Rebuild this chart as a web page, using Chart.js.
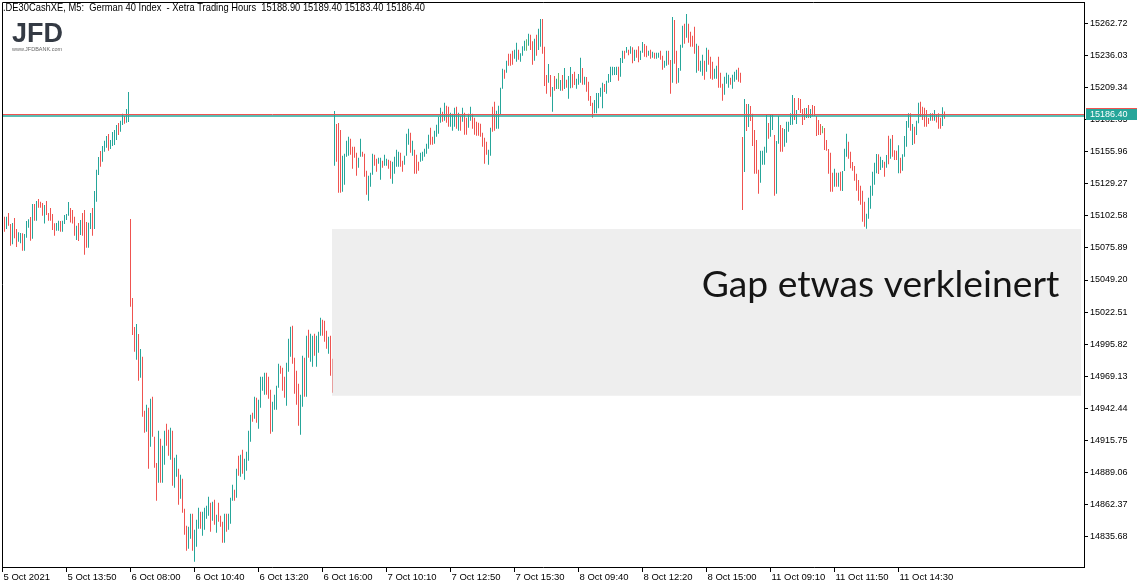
<!DOCTYPE html>
<html>
<head>
<meta charset="utf-8">
<style>
  html, body { margin: 0; padding: 0; background: #fff; }
  #wrap { width: 1142px; height: 588px; position: relative; }
</style>
<script src="https://cdn.jsdelivr.net/npm/chart.js@4.4.1/dist/chart.umd.min.js"></script>
</head>
<body>
<div id="wrap"><canvas id="chart" width="1142" height="588"></canvas></div>
<script>
/* ── Axis labels ── */
const xTickLabels = [
  '5 Oct 2021', '5 Oct 13:50', '6 Oct 08:00', '6 Oct 10:40', '6 Oct 13:20',
  '6 Oct 16:00', '7 Oct 10:10', '7 Oct 12:50', '7 Oct 15:30', '8 Oct 09:40',
  '8 Oct 12:20', '8 Oct 15:00', '11 Oct 09:10', '11 Oct 11:50', '11 Oct 14:30'
];
const yTickValues = [
  15262.72, 15236.03, 15209.34, 15182.65, 15155.96, 15129.27, 15102.58, 15075.89,
  15049.20, 15022.51, 14995.82, 14969.13, 14942.44, 14915.75, 14889.06, 14862.37, 14835.68
];

const headerText = '.DE30CashXE, M5:  German 40 Index  - Xetra Trading Hours  15188.90 15189.40 15183.40 15186.40';
const gapNote = 'Gap etwas verkleinert';
const bidPrice = 15186.40;
const askPrice = 15187.40;
const gapTop = 15091.6;
const gapBottom = 14952.9;

/* ── M5 bars, one array per session (high / low / u=up d=down n=doji) ── */
const oct5High = [
  15101.9,15101.9,15104.9,15095.8,15096.6,15100.8,15091.6,15088.9,15088.3,15088.0,
  15087.4,15098.3,15099.7,15101.6,15112.4,15112.4,15114.9,15116.6,15114.3,15113.2,
  15111.6,15114.9,15104.9,15109.1,15104.1,15096.4,15096.6,15098.5,15098.3,15098.5,
  15103.3,15104.1,15114.1,15109.1,15107.4,15101.9,15094.4,15096.6,15099.1,15104.9,
  15107.4,15097.4,15096.9,15104.9,15109.1,15123.2,15140.9,15151.5,15156.5,15160.6,
  15165.0,15169.0,15170.6,15165.6,15172.3,15173.9,15178.1,15179.8,15181.7,15187.5,
  15185.6,15191.4,15205.5
];
const oct5Low = [
  15089.4,15091.6,15094.4,15077.7,15078.9,15083.9,15076.7,15081.1,15079.7,15073.6,
  15073.6,15084.4,15092.7,15081.9,15083.6,15098.5,15098.5,15109.3,15109.3,15102.7,
  15096.2,15103.3,15098.5,15098.5,15090.8,15086.1,15090.2,15090.2,15089.4,15089.4,
  15095.8,15099.1,15102.7,15097.1,15096.2,15086.1,15082.5,15081.6,15086.6,15086.1,
  15070.2,15076.1,15076.1,15091.6,15086.1,15091.6,15114.3,15136.5,15143.4,15147.6,
  15155.9,15159.2,15156.7,15158.1,15160.6,15161.5,15165.6,15169.8,15172.6,15178.1,
  15179.2,15180.1,15180.6
];
const oct5Dir = `
  d u d d u d d u u d
  u u u d u d u d d d
  u d d d d d u u d u
  u u u d d d u d u d
  d d u u d u u u d u
  u u d u u u u d u u
  d u u`;

const oct6High = [
  15099.9,15034.2,15010.1,15012.6,15004.3,14991.8,14985.4,14940.5,14945.5,14943.0,
  14950.5,14952.1,14918.8,14897.0,14923.8,14917.2,14911.4,14923.8,14929.6,14924.7,
  14926.3,14923.8,14901.4,14903.9,14892.2,14887.2,14883.9,14859.0,14844.8,14843.9,
  14854.8,14854.8,14841.5,14849.8,14859.8,14856.5,14856.5,14859.8,14861.5,14869.0,
  14864.0,14864.8,14866.4,14854.0,14864.0,14853.1,14848.2,14854.8,14854.8,14854.8,
  14868.1,14878.9,14874.8,14892.2,14903.0,14903.9,14908.0,14900.6,14906.4,14923.8,
  14937.2,14938.8,14952.1,14951.3,14949.6,14968.7,14968.7,14972.1,14972.1,14968.7,
  14957.9,14947.9,14953.8,14961.3,14979.6,14977.9,14976.2,14968.7,14980.4,15000.4,
  15010.3,15011.2,14984.6,14973.7,14962.9,14953.8,14986.2,14984.6,15002.9,15007.9,
  15004.5,15002.9,15004.5,15002.9,15006.2,15017.8,15016.2,15015.3,15007.0,15002.0,
  15002.9,14983.7
];
const oct6Low = [
  15027.0,15003.4,14989.6,14982.9,14965.4,14967.9,14935.5,14922.2,14923.0,14892.2,
  14910.5,14918.8,14893.1,14865.6,14880.6,14880.6,14880.6,14895.6,14911.4,14903.0,
  14899.7,14878.1,14876.4,14885.6,14862.3,14867.3,14855.6,14837.3,14824.0,14825.7,
  14834.0,14824.0,14814.9,14827.3,14842.3,14842.3,14836.5,14841.5,14850.6,14853.1,
  14839.8,14849.0,14845.7,14839.0,14848.2,14844.0,14830.7,14830.7,14839.8,14841.5,
  14846.5,14865.6,14865.6,14868.1,14886.4,14885.6,14888.1,14883.1,14890.6,14898.9,
  14914.7,14931.3,14933.8,14930.5,14925.5,14943.0,14957.1,14953.8,14953.8,14950.5,
  14921.3,14923.0,14941.3,14941.3,14959.6,14971.2,14957.1,14951.3,14944.6,14972.9,
  14985.4,14979.6,14954.6,14945.5,14927.9,14920.5,14943.8,14952.1,14952.1,14984.6,
  14981.2,14977.1,14986.2,14977.1,14988.7,15002.9,15002.9,14997.9,14992.0,14987.9,
  14969.6,14955.4
];
const oct6Dir = `
  d d d u d u d d u d
  u d d d u d u u d d
  u d u u d u d d d u
  u d u u u d u u u u
  d u d u d d d u d u
  u u d u d u d u u u
  u d u d u u u u d d
  d u u u u d d d u u
  u d d d d u u d u d
  u u d u u u d d d u
  d d`;

const oct7High = [
  15189.8,15178.9,15179.8,15174.0,15152.6,15154.3,15165.1,15168.4,15166.7,15160.1,
  15160.1,15155.1,15150.9,15166.7,15155.9,15154.3,15140.1,15135.9,15138.4,15154.3,
  15153.4,15150.1,15150.9,15150.9,15148.4,15153.4,15150.1,15149.3,15148.4,15147.6,
  15151.8,15157.6,15155.9,15155.1,15148.4,15152.6,15170.9,15175.0,15171.7,15165.1,
  15157.6,15153.4,15147.6,15155.1,15155.9,15158.4,15162.6,15170.1,15175.9,15168.4,
  15173.4,15178.4,15185.0,15192.5,15189.2,15196.7,15194.2,15193.3,15188.4,15187.5,
  15192.5,15193.3,15188.4,15185.9,15192.5,15188.4,15184.2,15187.5,15193.3,15187.5,
  15184.2,15180.9,15180.0,15179.2,15171.7,15167.6,15164.2,15157.6,15175.9,15193.3,
  15197.5,15190.0,15194.2,15209.2,15225.0,15224.1,15231.6,15237.4,15237.4,15239.9,
  15240.7,15246.5,15240.7,15237.8,15243.6,15248.2,15249.4,15254.1,15253.2,15247.7,
  15249.9,15253.2
];
const oct7Low = [
  15144.3,15147.6,15121.8,15121.8,15122.6,15128.5,15151.8,15152.6,15153.4,15141.8,
  15150.9,15135.9,15142.6,15151.8,15151.8,15135.1,15120.1,15115.2,15126.8,15136.8,
  15144.3,15139.3,15145.9,15132.6,15142.6,15144.3,15144.3,15141.8,15133.5,15129.3,
  15137.6,15143.4,15143.4,15143.4,15139.3,15145.1,15152.6,15161.7,15155.1,15152.6,
  15137.6,15137.6,15140.1,15147.6,15148.4,15151.8,15154.3,15158.4,15161.7,15161.7,
  15162.6,15168.4,15170.9,15180.0,15180.9,15181.7,15180.0,15176.7,15176.7,15173.4,
  15176.7,15175.0,15173.4,15173.4,15180.9,15170.1,15170.1,15175.9,15181.7,15175.0,
  15170.1,15169.2,15169.2,15168.4,15160.1,15145.9,15153.4,15145.1,15152.6,15172.5,
  15173.4,15175.0,15175.0,15186.7,15208.3,15216.6,15221.6,15227.4,15227.4,15228.3,
  15233.2,15230.8,15232.4,15230.8,15235.8,15239.9,15239.9,15244.0,15240.5,15228.3,
  15231.6,15235.8
];
const oct7Dir = `
  u d d d u u u u d d
  d d u u d d d u u u
  d d u u d u u d d u
  u u u d d u u u d u
  d d d u u u u u d d
  u u u u d u d d u u
  u d u d u d d u u d
  d d d d d d d u u d
  d u u u u d u d d d
  u u d u u u n u d d
  u d`;

const oct8High = [
  15258.2,15266.3,15266.3,15243.2,15219.7,15228.9,15219.7,15209.7,15218.9,15216.6,
  15221.4,15215.6,15219.7,15225.5,15215.8,15218.9,15226.4,15220.5,15222.5,15216.6,
  15220.5,15234.1,15225.5,15218.3,15218.0,15214.1,15202.2,15196.7,15198.9,15204.7,
  15204.7,15209.2,15213.3,15212.2,15215.0,15220.5,15226.6,15226.6,15226.4,15226.6,
  15226.6,15233.9,15239.9,15239.9,15243.0,15240.7,15243.6,15242.7,15240.7,15240.7,
  15243.6,15239.9,15247.2,15245.5,15244.0,15239.9,15240.7,15239.1,15238.2,15238.2,
  15238.2,15239.9,15235.8,15231.6,15239.9,15239.9,15232.2,15267.9,15265.5,15239.9,
  15225.5,15244.9,15260.7,15262.4,15270.5,15262.4,15255.7,15252.4,15259.9,15245.7,
  15244.0,15231.6,15236.6,15231.6,15242.4,15240.7,15234.9,15230.8,15225.0,15227.4,
  15234.9,15221.6,15212.5,15218.3,15221.6,15219.9,15217.4,15219.9,15222.5,15224.1,
  15225.8,15221.6
];
const oct8Low = [
  15240.5,15243.2,15237.4,15210.6,15204.2,15213.3,15201.7,15189.2,15206.7,15208.1,
  15208.1,15206.7,15206.7,15208.1,15209.2,15200.0,15208.7,15209.2,15211.4,15208.3,
  15211.6,15213.3,15211.6,15211.6,15205.8,15198.3,15193.9,15184.2,15187.8,15187.8,
  15192.0,15201.7,15192.0,15205.6,15204.2,15213.3,15213.9,15219.5,15219.7,15219.7,
  15215.0,15218.3,15229.7,15233.2,15238.2,15236.1,15237.4,15229.4,15231.4,15234.1,
  15230.3,15232.2,15238.2,15234.9,15234.4,15235.8,15233.2,15234.1,15233.2,15233.2,
  15234.1,15232.4,15224.1,15225.8,15227.4,15228.3,15204.2,15213.3,15229.1,15212.5,
  15213.3,15223.3,15242.4,15245.7,15250.7,15246.5,15243.2,15243.2,15237.4,15221.6,
  15223.3,15222.5,15219.1,15215.8,15222.5,15228.3,15216.6,15215.8,15216.6,15216.6,
  15209.2,15209.2,15198.3,15203.3,15212.5,15209.2,15211.6,15208.3,15214.1,15215.8,
  15214.1,15213.3
];
const oct8Dir = `
  u u d d d u d u d u
  n u d u d u u d d u
  u u d u d d d d u u
  u u u d u u u u u u
  d u u d u d u d u d
  d
  u u d d u d u d u u
  d d u u d d u d d u
  u u d u d d d d u d
  u u d u d d d u u d
  d d u u u d u u u d d`;

const oct11High = [
  15168.1,15199.7,15195.6,15195.6,15193.9,15187.5,15174.0,15165.6,15140.9,15156.8,
  15156.8,15160.1,15186.4,15179.8,15186.4,15186.4,15169.8,15164.8,15185.6,15178.1,
  15175.6,15174.8,15180.9,15180.9,15187.9,15203.1,15200.6,15190.6,15200.6,15199.7,
  15191.4,15192.3,15192.3,15194.8,15191.4,15194.8,15193.9,15185.6,15182.3,15179.0,
  15177.3,15175.6,15165.6,15158.2,15155.1,15138.4,15141.8,15138.4,15138.4,15139.3,
  15139.9,15158.4,15170.9,15164.2,15155.9,15147.3,15144.0,15137.6,15132.4,15127.6,
  15123.5,15114.3,15104.3,15117.6,15127.6,15139.3,15146.8,15154.0,15153.7,15151.8,
  15149.0,15147.6,15153.2,15169.2,15166.7,15169.8,15157.1,15156.8,15161.2,15150.9,
  15153.7,15168.9,15181.4,15187.9,15187.9,15179.0,15176.7,15181.7,15196.7,15197.5,
  15193.3,15192.5,15190.6,15183.9,15187.9,15187.9,15190.6,15187.3,15187.9,15184.2,
  15192.8,15189.4
];
const oct11Low = [
  15107.4,15139.0,15173.1,15176.5,15181.4,15160.7,15137.6,15137.6,15121.0,15130.1,
  15145.1,15145.1,15155.1,15166.7,15168.4,15174.0,15119.3,15121.0,15162.6,15155.9,
  15155.9,15160.1,15163.4,15172.5,15178.1,15178.4,15182.3,15179.0,15190.6,15188.1,
  15178.1,15182.3,15183.9,15183.9,15183.9,15185.6,15185.6,15168.9,15169.8,15169.8,
  15171.2,15157.3,15156.8,15137.6,15122.6,15122.6,15126.8,15126.8,15126.8,15123.5,
  15123.2,15139.9,15151.8,15150.1,15142.1,15140.1,15131.8,15123.5,15115.2,15111.8,
  15097.7,15093.5,15091.9,15100.2,15108.5,15119.3,15128.5,15137.9,15137.4,15140.7,
  15142.6,15135.1,15142.6,15145.4,15150.1,15151.8,15149.0,15149.0,15137.9,15137.9,
  15140.1,15151.8,15160.1,15175.9,15173.4,15161.5,15162.6,15169.8,15179.5,15185.0,
  15182.3,15176.7,15176.7,15179.0,15181.7,15181.7,15181.7,15180.3,15175.0,15175.0,
  15177.3,15183.4
];
const oct11Dir = `
  d u d u d d d d d u
  u u u d u u d u u d
  d u u u u u d u d d
  d d u d u d d d d d
  n d d d d d u d u d
  u u u d d d d d d d
  d d u u u u u u d u
  u d u d u d d d u d
  u u u u d u d u u d
  d d d d u d u d d d
  u d`;

const highs = [...oct5High, ...oct6High, ...oct7High, ...oct8High, ...oct11High];
const lows  = [...oct5Low, ...oct6Low, ...oct7Low, ...oct8Low, ...oct11Low];
const dirs  = (oct5Dir + oct6Dir + oct7Dir + oct8Dir + oct11Dir).replace(/[^udn]/g, '').split('');

const UP = '#26a69a';
const DOWN = '#ef5350';
const DOJI = '#66bb6a';
const FONT = '"Liberation Sans", Arial, sans-serif';

/* ── Helpers ── */
function fitText(ctx, text, x, y, width) {
  const w = ctx.measureText(text).width;
  ctx.save();
  ctx.translate(x, y);
  ctx.scale(width / w, 1);
  ctx.fillText(text, 0, 0);
  ctx.restore();
}

/* ── Overlay: gap box, bid/ask lines, notes, frame ── */
const overlay = {
  id: 'overlay',
  afterDatasetsDraw(chart) {
    const { ctx, chartArea: a, scales: { x, y } } = chart;
    ctx.save();

    // gap rectangle
    const bx0 = x.getPixelForValue(163.75), bx1 = x.getPixelForValue(538.25);
    const by0 = y.getPixelForValue(gapTop), by1 = y.getPixelForValue(gapBottom);
    ctx.fillStyle = 'rgba(224,224,224,0.55)';
    ctx.fillRect(bx0, by0, bx1 - bx0, by1 - by0);

    ctx.fillStyle = '#151515';
    ctx.font = '36px Lato, "Open Sans", sans-serif';
    ctx.textBaseline = 'alphabetic';
    const tx0 = x.getPixelForValue(348.6), tx1 = x.getPixelForValue(527.4);
    fitText(ctx, gapNote, tx0, y.getPixelForValue(15035.3), tx1 - tx0);

    // ask / bid lines
    const ya = Math.round(y.getPixelForValue(askPrice)) + 0.5;
    const yb = Math.round(y.getPixelForValue(bidPrice)) + 0.5;
    ctx.lineWidth = 1;
    ctx.strokeStyle = DOWN;
    ctx.beginPath(); ctx.moveTo(a.left, ya); ctx.lineTo(a.right, ya); ctx.stroke();
    ctx.strokeStyle = UP;
    ctx.lineWidth = 1.5;
    ctx.beginPath(); ctx.moveTo(a.left, yb + 0.5); ctx.lineTo(a.right, yb + 0.5); ctx.stroke();
    ctx.restore();
  },
  afterDraw(chart) {
    const { ctx, chartArea: a, scales: { y } } = chart;
    ctx.save();

    // top and left frame
    ctx.strokeStyle = '#000';
    ctx.lineWidth = 1;
    ctx.beginPath();
    ctx.moveTo(a.left + 0.5, a.bottom);
    ctx.lineTo(a.left + 0.5, a.top + 0.5);
    ctx.lineTo(a.right, a.top + 0.5);
    ctx.stroke();

    // header
    ctx.fillStyle = '#000';
    ctx.font = '10.5px ' + FONT;
    ctx.textBaseline = 'alphabetic';
    fitText(ctx, headerText, 3, 11, 422);

    // logo
    ctx.fillStyle = '#343a44';
    ctx.font = 'bold 28px ' + FONT;
    fitText(ctx, 'JFD', 12, 42, 51);
    ctx.fillStyle = '#666';
    ctx.font = '5px ' + FONT;
    fitText(ctx, 'www.JFDBANK.com', 12, 51, 50);

    // current price label on the axis
    const yb = Math.round(y.getPixelForValue(bidPrice));
    ctx.fillStyle = UP;
    ctx.fillRect(a.right + 2, yb - 6, 51, 11);
    ctx.fillStyle = DOWN;
    ctx.fillRect(a.right + 2, yb - 7, 51, 1);
    ctx.fillStyle = '#fff';
    ctx.font = '9px ' + FONT;
    ctx.textBaseline = 'middle';
    ctx.fillText(bidPrice.toFixed(2), a.right + 6, yb);
    ctx.restore();
  }
};

/* ── Chart ── */
const bars = highs.map((h, i) => ({ x: i, y: [lows[i], h] }));
const barColors = dirs.map(d => d === 'u' ? UP : d === 'd' ? DOWN : DOJI);

new Chart(document.getElementById('chart').getContext('2d'), {
  type: 'bar',
  data: {
    datasets: [{
      data: bars,
      backgroundColor: barColors,
      borderWidth: 0,
      barThickness: 1,
      inflateAmount: 0
    }]
  },
  options: {
    responsive: false,
    animation: false,
    devicePixelRatio: 1,
    events: [],
    layout: { padding: { left: 2, top: 2, right: 0, bottom: 0 } },
    plugins: { legend: { display: false }, tooltip: { enabled: false } },
    scales: {
      x: {
        type: 'linear',
        position: 'bottom',
        min: -1.25,
        max: 539.75,
        offset: false,
        afterBuildTicks: s => { s.ticks = xTickLabels.map((_, k) => ({ value: k * 32 - 1 })); },
        afterFit: s => { s.height = 21; s.paddingLeft = 0; s.paddingRight = 0; },
        grid: { offset: false, drawOnChartArea: false, drawTicks: true, tickLength: 5, color: '#000', lineWidth: 1 },
        border: { display: true, color: '#000', width: 1 },
        ticks: {
          autoSkip: false, maxRotation: 0, minRotation: 0, align: 'start', padding: 0, labelOffset: 1,
          color: '#000', font: { family: FONT, size: 9.5 },
          callback: (v, k) => xTickLabels[k]
        }
      },
      y: {
        type: 'linear',
        position: 'right',
        min: 14810.48,
        max: 15280.44,
        afterBuildTicks: s => { s.ticks = yTickValues.map(v => ({ value: v })); },
        afterFit: s => { s.width = 58; s.paddingTop = 0; s.paddingBottom = 0; },
        grid: { drawOnChartArea: false, drawTicks: true, tickLength: 4, color: '#000', lineWidth: 1 },
        border: { display: true, color: '#000', width: 1 },
        ticks: {
          padding: 2, color: '#000', font: { family: FONT, size: 9 },
          callback: v => v.toFixed(2)
        }
      }
    }
  },
  plugins: [overlay]
});
</script>
</body>
</html>
